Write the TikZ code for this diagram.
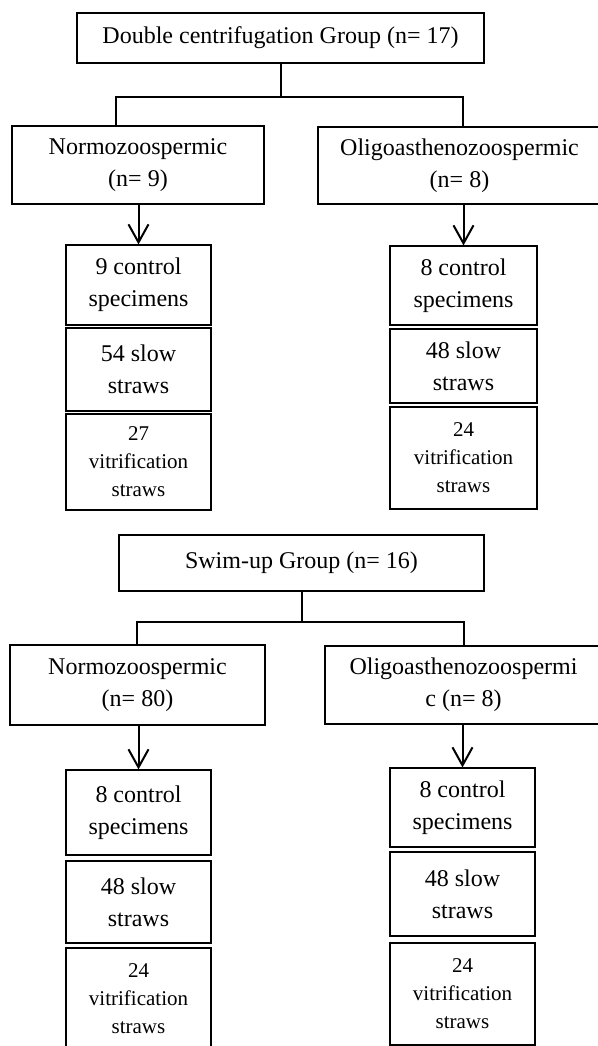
\documentclass[tikz,border=0pt]{standalone}
\usepackage{fontspec}
\setmainfont{Liberation Serif}
\usepackage{tikz}
\usetikzlibrary{arrows.meta}

\tikzset{
  box/.style={draw,line width=0.6pt,inner sep=0pt,align=center,
    font=\fontsize{12}{16}\selectfont},
  col/.style={box,minimum width=72.5pt},
  small/.style={font=\fontsize{10.5}{14}\selectfont},
  link/.style={line width=1pt},
  arr/.style={line width=1pt,-{Straight Barb[length=9pt,width=10pt]}}
}

\begin{document}
\begin{tikzpicture}[x=0.5pt,y=-0.5pt]
\useasboundingbox (0,0) rectangle (598,1046);
\clip (0,0) rectangle (598,1046);
% --- Double centrifugation group ---
\node[box,minimum width=203.5pt,minimum height=25pt] (dc) at (280.5,38)
  {Double centrifugation Group (n= 17)};
\node[box,minimum width=126pt,minimum height=39pt] (n1) at (138,165)
  {Normozoospermic\\(n= 9)};
\node[box,minimum width=141.5pt,minimum height=38.5pt] (o1) at (459.5,165.5)
  {Oligoasthenozoospermic\\(n= 8)};
\coordinate (dcl) at (116,97);
\coordinate (dcr) at (463,97);
\draw[link] (dc.south) -- (dc.south |- dcl);
\draw[link] (dcl |- n1.north) -- (dcl) -- (dcr) -- (dcr |- o1.north);
% left column
\node[col,minimum height=40pt] (c1a) at (138.5,285) {9 control\\specimens};
\node[col,minimum height=41.5pt] (c1b) at (138.5,369.5) {54 slow\\straws};
\node[col,small,minimum height=48pt] (c1c) at (138.5,462) {27\\vitrification\\straws};
\draw[arr] (c1a.north |- n1.south) -- (c1a.north);
% right column
\node[col,minimum width=73.5pt,minimum height=39.5pt] (r1a) at (463.5,285.5) {8 control\\specimens};
\node[col,minimum width=73.5pt,minimum height=37pt] (r1b) at (463.5,366) {48 slow\\straws};
\node[col,small,minimum width=73.5pt,minimum height=51pt] (r1c) at (463.5,458) {24\\vitrification\\straws};
\draw[arr] (r1a.north |- o1.south) -- (r1a.north);

% --- Swim-up group ---
\node[box,minimum width=182.5pt,minimum height=28pt] (su) at (301.5,563)
  {Swim-up Group (n= 16)};
\node[box,minimum width=127.5pt,minimum height=40pt] (n2) at (137.5,685)
  {Normozoospermic\\(n= 80)};
\node[box,minimum width=138.5pt,minimum height=39pt] (o2) at (463.5,685)
  {Oligoasthenozoospermi\\c (n= 8)};
\coordinate (sul) at (137,622);
\coordinate (sur) at (464,622);
\draw[link] (su.south) -- (su.south |- sul);
\draw[link] (sul |- n2.north) -- (sul) -- (sur) -- (sur |- o2.north);
% left column
\node[col,minimum height=42.5pt] (c2a) at (138.5,812.5) {8 control\\specimens};
\node[col,minimum height=41pt] (c2b) at (138.5,902) {48 slow\\straws};
\node[col,small,minimum height=51pt] (c2c) at (138.5,999) {24\\vitrification\\straws};
\draw[arr] (c2a.north |- n2.south) -- (c2a.north);
% right column
\node[col,minimum height=39.5pt] (r2a) at (462.5,807.5) {8 control\\specimens};
\node[col,minimum height=42pt] (r2b) at (462.5,894) {48 slow\\straws};
\node[col,small,minimum height=51pt] (r2c) at (462.5,994) {24\\vitrification\\straws};
\draw[arr] (r2a.north |- o2.south) -- (r2a.north);
\end{tikzpicture}
\end{document}
